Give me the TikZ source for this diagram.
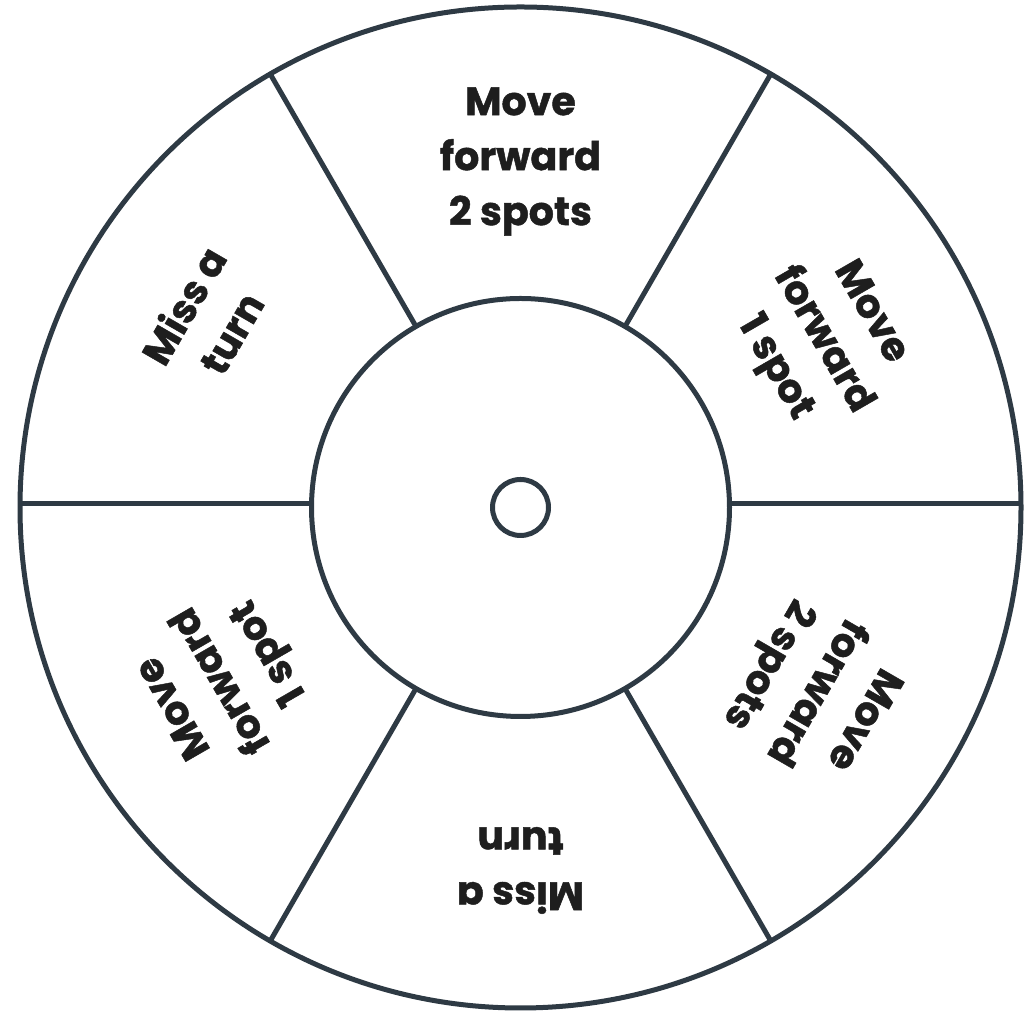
\documentclass[tikz,border=0pt]{standalone}
\usepackage{fontspec}
\setmainfont{Poppins}[BoldFeatures={FakeBold=1.2}]
\usetikzlibrary{calc}
\definecolor{wheel}{HTML}{2E3A44}
\definecolor{ink}{HTML}{1E1E1E}
\begin{document}
\begin{tikzpicture}[x=1pt,y=1pt,
  rim/.style={draw=wheel,line width=5pt},
  lbl/.style={align=center,text=ink,inner sep=0pt,
    font=\fontsize{39.5}{55}\selectfont\bfseries}]
\useasboundingbox (0,0) rectangle (1029,1011);
\coordinate (C) at (520.5,503.5);
\coordinate (H) at (520.5,507);
\draw[rim] (C) circle[radius=500.5];
\draw[rim] (C) circle[radius=209];
\draw[rim] (C) circle[radius=28];
\foreach \a in {60,120,240,300}
  \draw[rim] ($(C)+(\a:209)$) -- ($(C)+(\a:500.5)$);
\draw[rim] ($(H)+(209,0)$) -- ($(H)+(500.5,0)$);
\draw[rim] ($(H)+(-209,0)$) -- ($(H)+(-500.5,0)$);
\node[lbl] (t90)  at ($(C)+(90:346)$)  {Move\\forward\\2 spots};
\node[lbl,rotate=-60] (t30)  at ($(C)+(29:344)$)  {Move\\forward\\1 spot};
\node[lbl,rotate=60]  (t150) at ($(C)+(149:366)$) {Miss a\\turn};
\node[lbl,rotate=120] (t210) at ($(C)+(210:343)$) {Move\\forward\\1 spot};
\node[lbl,rotate=180] (t270) at ($(C)+(270:363)$) {Miss a\\turn};
\node[lbl,rotate=240] (t330) at ($(C)+(328:346)$) {Move\\forward\\2 spots};
\end{tikzpicture}
\end{document}
